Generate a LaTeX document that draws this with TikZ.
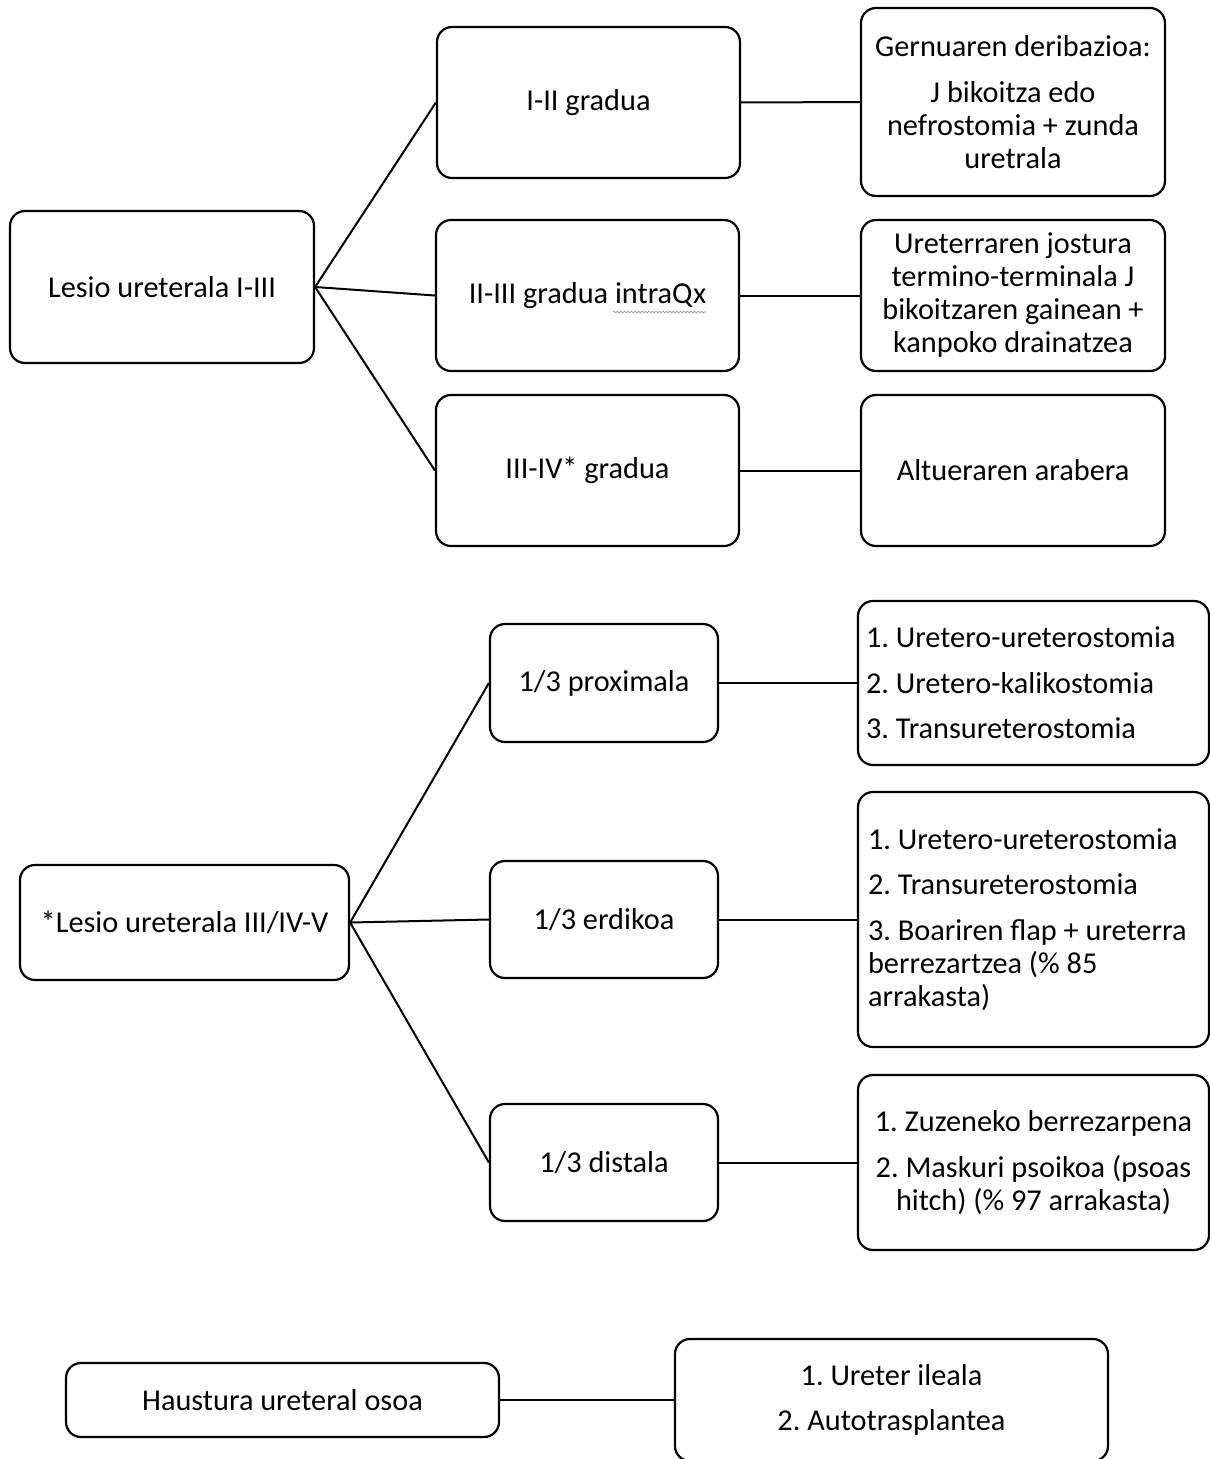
\documentclass[tikz,border=0pt]{standalone}
\usepackage{fontspec}
\setmainfont{Carlito}
\usetikzlibrary{positioning,decorations.pathmorphing}
\frenchspacing

\begin{document}
\begin{tikzpicture}[x=1pt, y=-1pt,
    box/.style={draw=borderColour, line width=2.2pt, rounded corners=15pt, align=center,
        inner sep=0pt, font=\fontsize{30.3}{33}\selectfont},
    link/.style={draw=borderColour, line width=2pt},
    spellwave/.style={draw=waveColour, line width=0.7pt, decorate,
        decoration={snake, amplitude=0.9pt, segment length=3.5pt}}]

    \definecolor{borderColour}{HTML}{000000}
    \definecolor{waveColour}{HTML}{9A9A9A}

    % Define item gap
    \def\itemGap{12.5pt}

    \useasboundingbox (0,0) rectangle (1210,1459);

    % Lesio ureterala I-III
    \node[box, minimum width=304pt, minimum height=152pt] (lesioA) at (162,287) {Lesio ureterala I-III};
    \node[box, minimum width=303pt, minimum height=151pt] (gradeA) at (588.5,102.5) {I-II gradua};
    \node[box, minimum width=303pt, minimum height=151pt] (gradeB) at (587.5,295.5) {II-III gradua intraQx};
    \node[box, minimum width=303pt, minimum height=151pt] (gradeC) at (587.5,470.5) {III-IV* gradua};

    \node[box, minimum width=304pt, minimum height=188pt] (treatA) at (1013,102)
        {Gernuaren deribazioa:\\[\itemGap]J bikoitza edo\\nefrostomia + zunda\\uretrala};
    \node[box, minimum width=304pt, minimum height=151pt] (treatB) at (1013,295.5)
        {Ureterraren jostura\\termino-terminala J\\bikoitzaren gainean +\\kanpoko drainatzea};
    \node[box, minimum width=304pt, minimum height=151pt] (treatC) at (1013,470.5) {Altueraren arabera};

    % Spell-check wave under intraQx
    \draw[spellwave] (613,312) -- (706,312);

    % Draw links
    \foreach \g in {gradeA,gradeB,gradeC}
        \draw[link] (lesioA.east) -- (\g.west);
    \draw[link] (gradeA) -- (treatA);
    \draw[link] (gradeB) -- (treatB);
    \draw[link] (gradeC) -- (treatC);

    % *Lesio ureterala III/IV-V
    \node[box, minimum width=329pt, minimum height=115pt] (lesioB) at (184.5,922.5) {*Lesio ureterala III/IV-V};
    \node[box, minimum width=228pt, minimum height=118pt] (partA) at (604,683) {1/3 proximala};
    \node[box, minimum width=228pt, minimum height=117pt] (partB) at (604,919.5) {1/3 erdikoa};
    \node[box, minimum width=228pt, minimum height=117pt] (partC) at (604,1162.5) {1/3 distala};

    \node[box, align=flush left, text width=335pt, minimum width=351pt, minimum height=164pt] (listA) at (1033.5,683)
        {1. Uretero-ureterostomia\\[\itemGap]2. Uretero-kalikostomia\\[\itemGap]3. Transureterostomia};
    \node[box, align=flush left, text width=331pt, minimum width=351pt, minimum height=255pt] (listB) at (1033.5,919.5)
        {1. Uretero-ureterostomia\\[\itemGap]2. Transureterostomia\\[\itemGap]3. Boariren flap + ureterra\\berrezartzea (\% 85\\arrakasta)};
    \node[box, minimum width=351pt, minimum height=175pt] (listC) at (1033.5,1162.5)
        {1. Zuzeneko berrezarpena\\[\itemGap]2. Maskuri psoikoa (psoas\\hitch) (\% 97 arrakasta)};

    % Draw links
    \foreach \p in {partA,partB,partC}
        \draw[link] (lesioB.east) -- (\p.west);
    \draw[link] (partA) -- (listA);
    \draw[link] (partB) -- (listB);
    \draw[link] (partC) -- (listC);

    % Haustura ureteral osoa
    \node[box, minimum width=433pt, minimum height=74pt] (rupture) at (282.5,1400) {Haustura ureteral osoa};
    \node[box, minimum width=433pt, minimum height=122pt] (listD) at (891.5,1400)
        {1. Ureter ileala\\[\itemGap]2. Autotrasplantea};
    \draw[link] (rupture) -- (listD);

\end{tikzpicture}
\end{document}
